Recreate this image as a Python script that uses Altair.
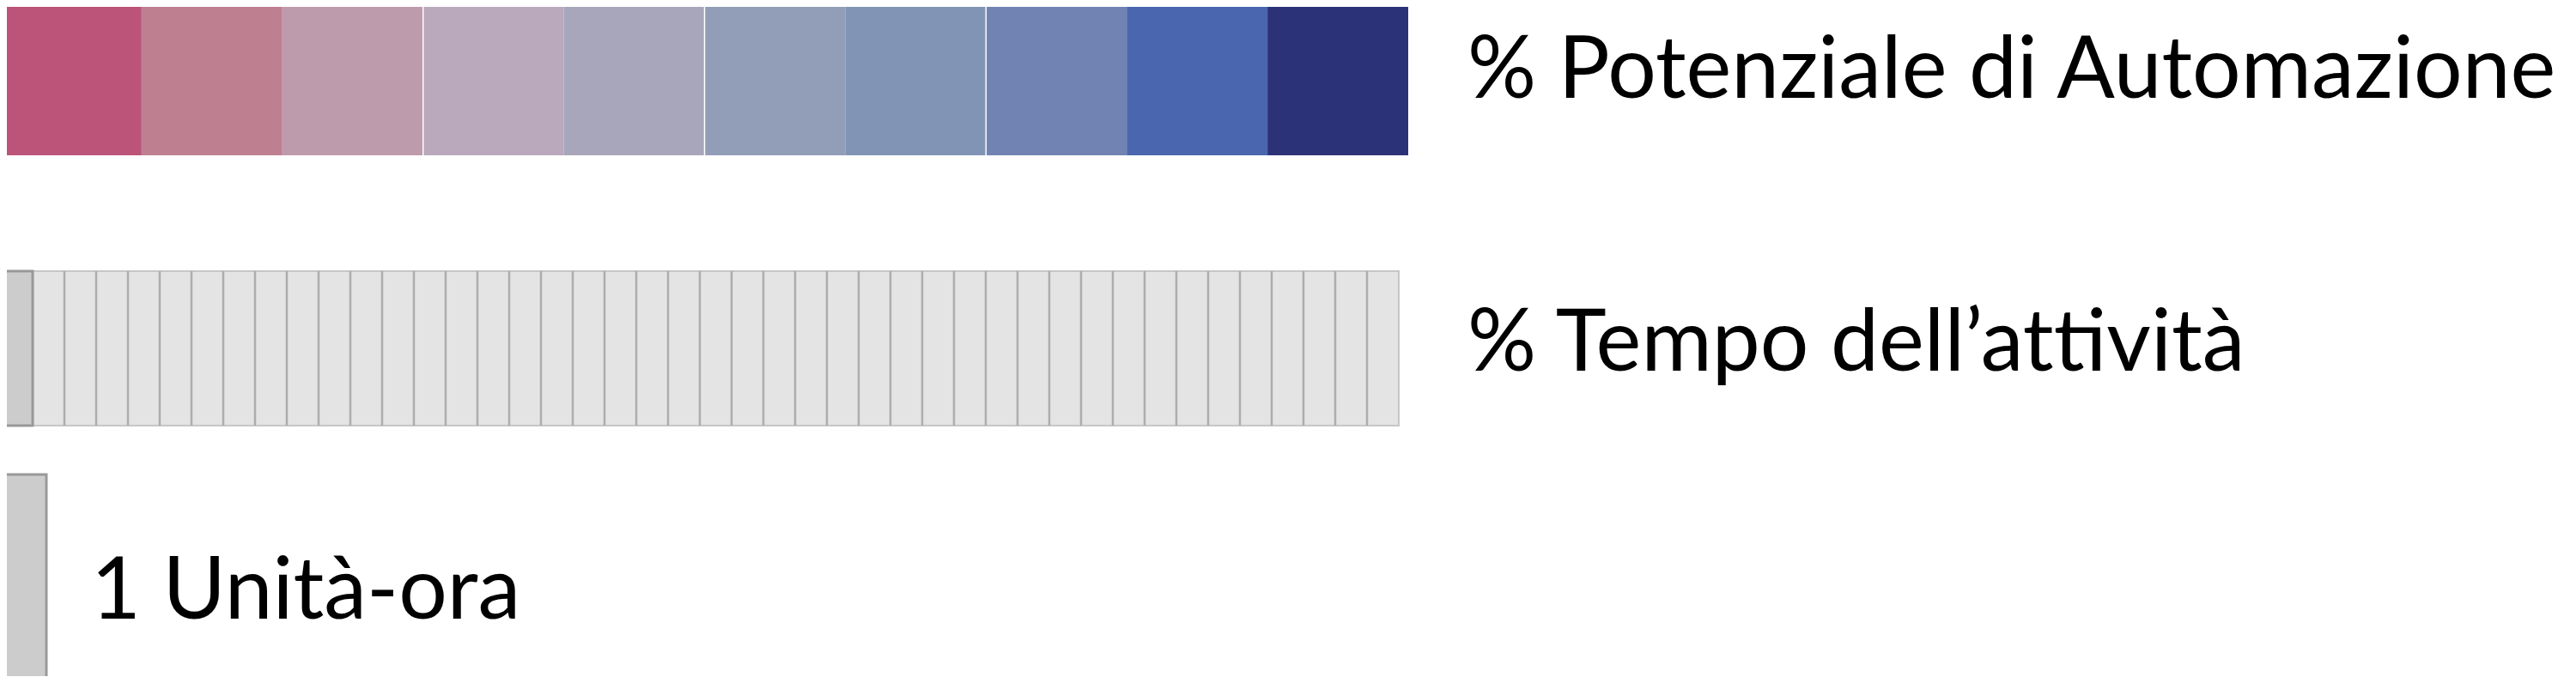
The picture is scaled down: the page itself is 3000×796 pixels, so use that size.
import pandas as pd
import altair as alt

# colori della scala "% Potenziale di Automazione" (da rosa a blu)
colori_scala = ["#BC5479", "#BE7F91", "#BD9BAC", "#BAA8BD", "#A7A6BB",
                "#929EB7", "#8194B5", "#7183B2", "#4A66AE", "#2C3277"]
separatori = [3, 5, 7]          # sottili linee bianche tra alcuni blocchi
n_celle = 44                    # celle della barra "% Tempo dell'attività"
# \u200c tra le due "t" evita la legatura "tt" di Lato
etichette = ["% Potenziale di Automazione", "% Tempo dell\u2019at\u200ctivit\u00e0", "1 Unit\u00e0-ora"]

W, H, OFF = 2980, 780, 8
SEG, CELLA = 163.9, 37

xs = alt.Scale(domain=[OFF, OFF + W], range=[0, W], zero=False, nice=False)
ys = alt.Scale(domain=[OFF, OFF + H], range=[0, H], zero=False, nice=False)
X = lambda f: alt.X(f, type="quantitative", scale=xs, axis=None)
Y = lambda f: alt.Y(f, type="quantitative", scale=ys, axis=None)

barra = pd.DataFrame({"i": range(len(colori_scala)), "colore": colori_scala})
barra["x0"] = 1 + barra["i"] * SEG
barra["x1"] = barra["x0"] + SEG
barra["y0"], barra["y1"] = 0, 181

sep = pd.DataFrame({"x": [1 + s * SEG for s in separatori], "y0": 0, "y1": 181})

celle = pd.DataFrame({"i": range(n_celle)})
celle["x0"] = 1 + celle["i"] * CELLA
celle["x1"] = celle["x0"] + CELLA
celle["y0"], celle["y1"] = 316, 496
celle["fill"] = ["#CCCCCC" if i == 0 else "#E4E4E4" for i in celle["i"]]

unita = pd.DataFrame({"x0": [2], "x1": [54], "y0": [553], "y1": [810]})

testi = pd.DataFrame({"testo": etichette, "x": [1709, 1709, 106], "y": [114, 432, 721]})

l_barra = alt.Chart(barra).mark_rect().encode(
    x=X("x0"), x2="x1", y=Y("y0"), y2="y1",
    color=alt.Color("colore:N", scale=None))
l_sep = alt.Chart(sep).mark_rule(color="white", strokeWidth=1.5).encode(
    x=X("x"), y=Y("y0"), y2="y1")

l_celle = alt.Chart(celle).mark_rect(stroke="#C6C6C6", strokeWidth=2).encode(
    x=X("x0"), x2="x1", y=Y("y0"), y2="y1",
    fill=alt.Fill("fill:N", scale=None))
l_div = alt.Chart(celle).mark_rule(color="#ADADAD", strokeWidth=2.5).encode(
    x=X("x0"), y=Y("y0"), y2="y1").transform_filter(alt.datum.i > 0)
l_prima = alt.Chart(celle).mark_rect(fill="#CCCCCC", stroke="#999999", strokeWidth=3).encode(
    x=X("x0"), x2="x1", y=Y("y0"), y2="y1").transform_filter(alt.datum.i == 0)

l_unita = alt.Chart(unita).mark_rect(fill="#CCCCCC", stroke="#999999", strokeWidth=3).encode(
    x=X("x0"), x2="x1", y=Y("y0"), y2="y1")

l_testi = alt.Chart(testi).mark_text(
    align="left", baseline="alphabetic", font="Lato", fontSize=100, color="black"
).encode(x=X("x"), y=Y("y"), text="testo:N")

chart = alt.layer(l_barra, l_sep, l_celle, l_div, l_prima, l_unita, l_testi).properties(
    width=W, height=H, padding=0, autosize=alt.AutoSizeParams(type="none")
).configure_view(stroke=None)

chart.save("out.html", embed_options={"renderer": "svg", "actions": False})
